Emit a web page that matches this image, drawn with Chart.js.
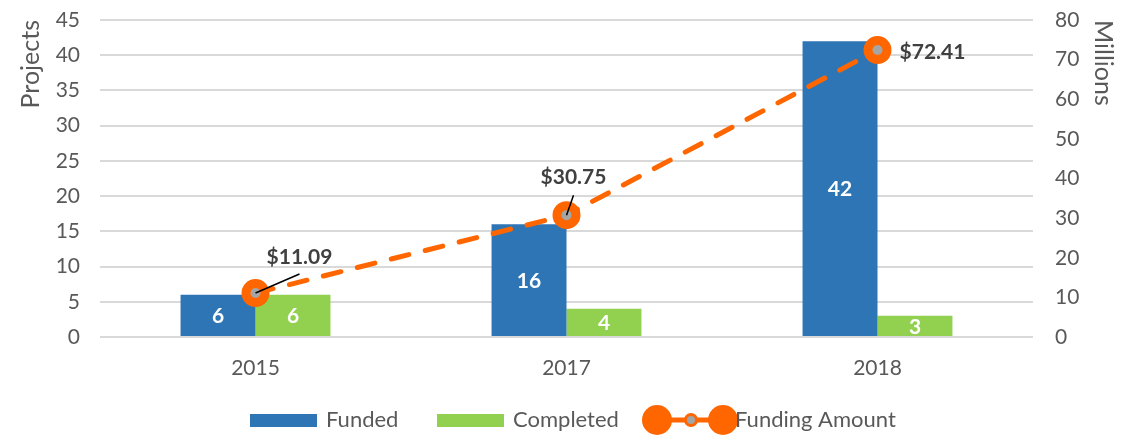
<!DOCTYPE html>
<html>
<head>
<meta charset="utf-8">
<title>Projects and Funding</title>
<script src="https://cdn.jsdelivr.net/npm/chart.js@4.4.1/dist/chart.umd.min.js"></script>
<style>
    body { margin: 0; background: #fff; }
    #chart { display: block; }
</style>
</head>
<body>
<canvas id="chart" width="1140" height="440"></canvas>
<script>
// Données du graphique
const categories = ['2015', '2017', '2018'];
const funded = [6, 16, 42];
const completed = [6, 4, 3];
const fundingAmount = [11.09, 30.75, 72.41];

const FONT = 'Lato, "Open Sans", sans-serif';
const TEXT_COLOR = '#595959';
const BLUE = '#2E75B6';
const GREEN = '#92D050';
const ORANGE = '#FF6600';
const GREY = '#A5A5A5';

// Position des étiquettes du montant (décalage par rapport au point) et trait de rappel
const calloutOffsets = [
    { dx: 44, dy: -36, lx: 44, ly: -19 },
    { dx: 7, dy: -38, lx: 7, ly: -20 },
    { dx: 55, dy: 2 }
];

function formatAmount(v) {
    return '$' + v.toFixed(2);
}

// Axe vertical : largeur fixe, sans marge due au libellé du haut
function fixedWidth(w) {
    return function(scale) {
        scale.width = w;
        scale.paddingTop = 0;
        scale.paddingBottom = 0;
    };
}

// Étiquettes de valeurs sur les barres et sur la courbe
const valueLabels = {
    id: 'valueLabels',
    afterDatasetsDraw(chart) {
        const ctx = chart.ctx;
        ctx.save();
        ctx.textAlign = 'center';
        ctx.textBaseline = 'middle';

        // barres : valeur en blanc au milieu
        ctx.font = 'bold 21px ' + FONT;
        ctx.fillStyle = '#fff';
        [1, 2].forEach(function(di) {
            const meta = chart.getDatasetMeta(di);
            meta.data.forEach(function(bar, i) {
                const v = chart.data.datasets[di].data[i];
                ctx.fillText(v, bar.x, (bar.y + bar.base) / 2 + 1);
            });
        });

        // courbe : montant avec trait de rappel
        const lineMeta = chart.getDatasetMeta(0);
        lineMeta.data.forEach(function(pt, i) {
            const off = calloutOffsets[i];
            if (off.lx !== undefined) {
                ctx.strokeStyle = '#000';
                ctx.lineWidth = 1.5;
                ctx.beginPath();
                ctx.moveTo(pt.x, pt.y);
                ctx.lineTo(pt.x + off.lx, pt.y + off.ly);
                ctx.stroke();
            }
            ctx.fillStyle = '#404040';
            ctx.font = 'bold 21px ' + FONT;
            ctx.fillText(formatAmount(fundingAmount[i]), pt.x + off.dx, pt.y + off.dy);
        });
        ctx.restore();
    }
};

// Légende dessinée sous le graphique
const bottomLegend = {
    id: 'bottomLegend',
    afterDraw(chart) {
        const ctx = chart.ctx;
        const y = 420;
        ctx.save();
        ctx.font = '22px ' + FONT;
        ctx.textBaseline = 'middle';
        ctx.textAlign = 'left';

        ctx.fillStyle = BLUE;
        ctx.fillRect(250, y - 6, 67, 13);
        ctx.fillStyle = GREEN;
        ctx.fillRect(437, y - 6, 67, 13);

        // symbole de la série « Funding Amount »
        ctx.strokeStyle = ORANGE;
        ctx.lineWidth = 5;
        ctx.beginPath();
        ctx.moveTo(657, y);
        ctx.lineTo(723, y);
        ctx.stroke();
        ctx.fillStyle = ORANGE;
        [657, 723].forEach(function(cx) {
            ctx.beginPath();
            ctx.arc(cx, y, 15, 0, Math.PI * 2);
            ctx.fill();
        });
        ctx.beginPath();
        ctx.arc(691, y, 5.5, 0, Math.PI * 2);
        ctx.fillStyle = GREY;
        ctx.fill();
        ctx.lineWidth = 3;
        ctx.stroke();

        ctx.fillStyle = TEXT_COLOR;
        ctx.fillText('Funded', 326, y);
        ctx.fillText('Completed', 513, y);
        ctx.fillText('Funding Amount', 735, y);
        ctx.restore();
    }
};

new Chart(document.getElementById('chart'), {
    type: 'bar',
    data: {
        labels: categories,
        datasets: [{
            type: 'line',
            label: 'Funding Amount',
            data: fundingAmount,
            yAxisID: 'y1',
            order: 0,
            borderColor: ORANGE,
            borderWidth: 5,
            borderDash: [18, 17],
            borderCapStyle: 'round',
            tension: 0,
            fill: false,
            pointRadius: 9.5,
            pointBorderWidth: 9,
            pointBackgroundColor: GREY,
            pointBorderColor: ORANGE
        }, {
            label: 'Funded',
            data: funded,
            yAxisID: 'y',
            order: 1,
            backgroundColor: BLUE,
            categoryPercentage: 0.482,
            barPercentage: 1
        }, {
            label: 'Completed',
            data: completed,
            yAxisID: 'y',
            order: 2,
            backgroundColor: GREEN,
            categoryPercentage: 0.482,
            barPercentage: 1
        }]
    },
    options: {
        responsive: false,
        animation: false,
        layout: { padding: { top: 20, left: 0, right: 0, bottom: 0 } },
        plugins: {
            legend: { display: false },
            tooltip: { enabled: false }
        },
        scales: {
            x: {
                offset: true,
                grid: { display: false, drawTicks: false },
                border: { display: false },
                ticks: { color: TEXT_COLOR, font: { family: FONT, size: 21 }, padding: 19 },
                afterFit: function(scale) { scale.height = 103; }
            },
            y: {
                position: 'left',
                min: 0,
                max: 45,
                ticks: { stepSize: 5, color: TEXT_COLOR, font: { family: FONT, size: 21 }, padding: 20 },
                grid: { color: '#D9D9D9', lineWidth: 2, drawTicks: false },
                border: { display: false },
                title: {
                    display: true,
                    text: 'Projects',
                    align: 'end',
                    color: TEXT_COLOR,
                    font: { family: FONT, size: 25 },
                    padding: { top: 16, bottom: 0 }
                },
                afterFit: fixedWidth(100)
            },
            y1: {
                position: 'right',
                min: 0,
                max: 80,
                ticks: { stepSize: 10, color: TEXT_COLOR, font: { family: FONT, size: 21 }, padding: 22 },
                grid: { display: false, drawTicks: false },
                border: { display: false },
                title: {
                    display: true,
                    text: 'Millions',
                    align: 'end',
                    color: TEXT_COLOR,
                    font: { family: FONT, size: 25 },
                    padding: { top: 22, bottom: 0 }
                },
                afterFit: fixedWidth(107)
            }
        }
    },
    plugins: [valueLabels, bottomLegend]
});
</script>
</body>
</html>
